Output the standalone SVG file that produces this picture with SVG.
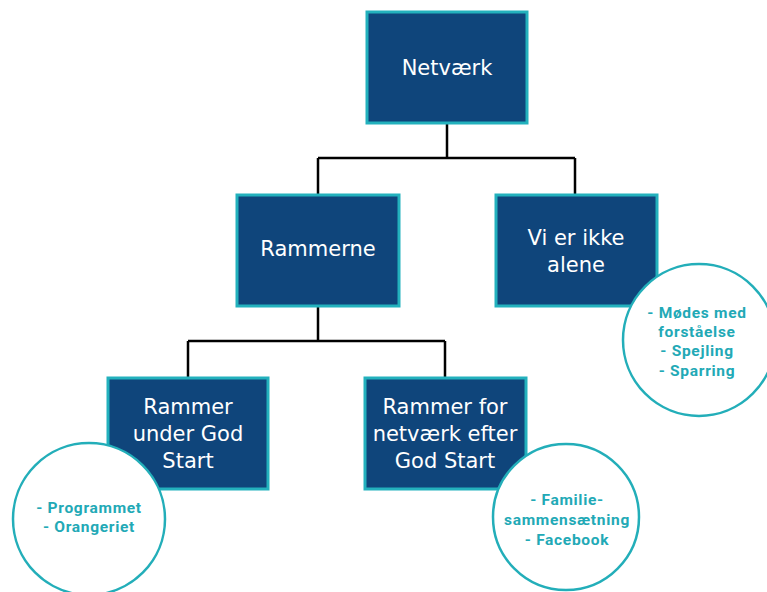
<svg xmlns="http://www.w3.org/2000/svg" width="767" height="592" viewBox="0 0 767 592">
<style>
.box{fill:#0F457B;stroke:#23B1BD;stroke-width:3}
.nt{font-family:"DejaVu Sans",sans-serif;font-size:21px;fill:#ffffff;text-anchor:middle}
.circ{fill:#ffffff;stroke:#23AEB9;stroke-width:2.5}
.ct{font-family:Roboto,sans-serif;font-weight:bold;font-size:15.5px;letter-spacing:0.7px;fill:#22A9B6;text-anchor:middle}
.conn{fill:none;stroke:#000000;stroke-width:2.5}
</style>
<rect width="767" height="592" fill="#ffffff"/>
<g id="connectors">
<path class="conn" d="M447 123V158M318 158H575M318 158V195M575 158V195"/>
<path class="conn" d="M318 306V341M188 341H445M188 341V378M445 341V378"/>
</g>
<g id="netvaerk"><rect class="box" x="367" y="12" width="160" height="111"/><text class="nt" x="447" y="75">Netværk</text></g>
<g id="rammerne"><rect class="box" x="237" y="195" width="162" height="111"/><text class="nt" x="318" y="256">Rammerne</text></g>
<g id="vi-er-ikke-alene"><rect class="box" x="496" y="195" width="161" height="111"/><text class="nt" x="576" y="245">Vi er ikke</text><text class="nt" x="576" y="272">alene</text></g>
<g id="rammer-under"><rect class="box" x="108" y="378" width="160" height="111"/><text class="nt" x="188" y="414">Rammer</text><text class="nt" x="188" y="441">under God</text><text class="nt" x="188" y="468">Start</text></g>
<g id="rammer-for"><rect class="box" x="365" y="378" width="161" height="111"/><text class="nt" x="445" y="414">Rammer for</text><text class="nt" x="445" y="441">netværk efter</text><text class="nt" x="445" y="468">God Start</text></g>
<g id="circle-right"><circle class="circ" cx="699" cy="340" r="76"/><text class="ct" x="697" y="318">- Mødes med</text><text class="ct" x="697" y="337">forståelse</text><text class="ct" x="697" y="356">- Spejling</text><text class="ct" x="697" y="376">- Sparring</text></g>
<g id="circle-left"><circle class="circ" cx="89" cy="519" r="76"/><text class="ct" x="89" y="513">- Programmet</text><text class="ct" x="89" y="532">- Orangeriet</text></g>
<g id="circle-bottom"><circle class="circ" cx="566" cy="517" r="73"/><text class="ct" x="567" y="505">- Familie-</text><text class="ct" x="567" y="525">sammensætning</text><text class="ct" x="567" y="545">- Facebook</text></g>
</svg>
